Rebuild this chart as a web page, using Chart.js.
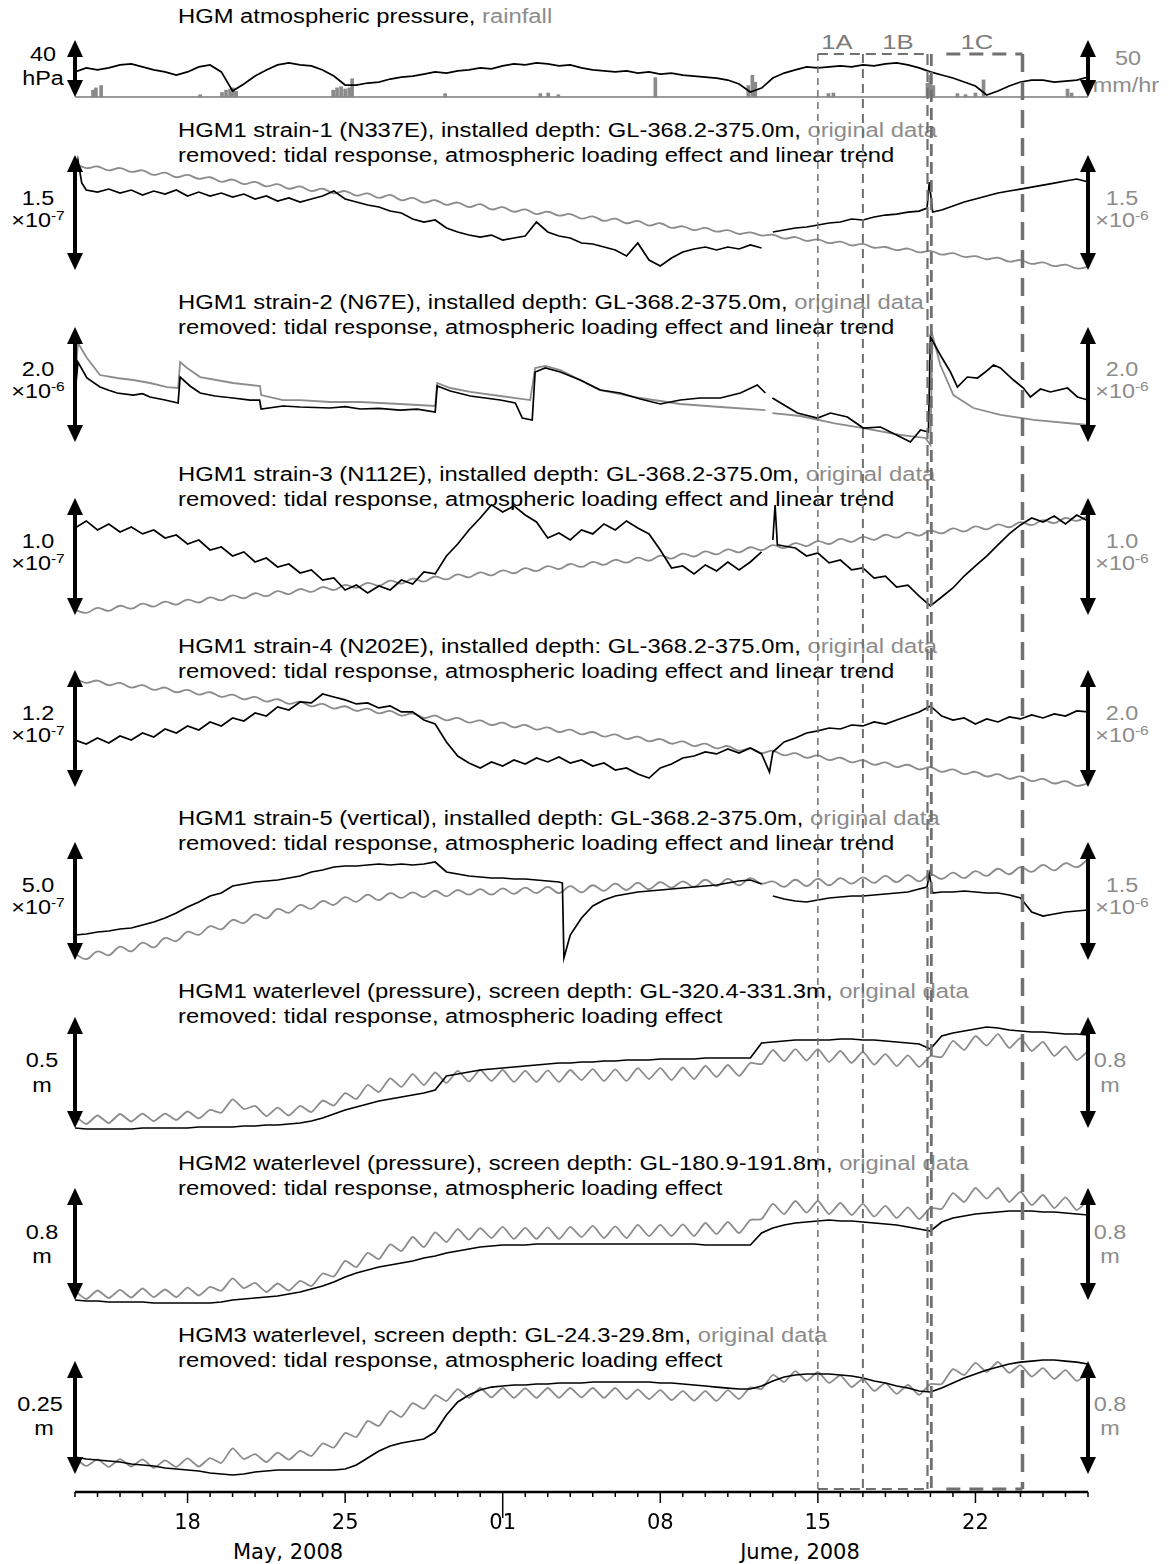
<!DOCTYPE html>
<html><head><meta charset="utf-8">
<title>HGM strain and water level, May–June 2008</title>
<script src="https://cdn.jsdelivr.net/npm/chart.js@4.4.1/dist/chart.umd.min.js"></script>
<style>
html,body{margin:0;padding:0;background:#fff}
#wrap{position:relative;width:1169px;height:1564px;overflow:hidden;background:#fff}
#c{position:absolute;left:0;top:0;z-index:2}
.t{position:absolute;left:178px;font-family:"Liberation Sans",Arial,sans-serif;font-size:19.5px;line-height:20px;white-space:nowrap;transform:scaleX(1.22);transform-origin:0 0;color:#000;z-index:1}
.g{color:#8c8c8c}
.c{position:absolute;font-family:"Liberation Sans",Arial,sans-serif;font-size:19.5px;line-height:20px;white-space:nowrap;transform:translate(-50%,-50%) scaleX(1.2);z-index:1;color:#000}
.c.g{color:#8c8c8c}
.sup{font-size:13px;position:relative;top:-7px}
.ax{position:absolute;font-family:"DejaVu Sans",Verdana,sans-serif;font-size:21px;line-height:24px;white-space:nowrap;transform:translate(-50%,-50%);color:#000;z-index:1}
.ev{position:absolute;font-family:"Liberation Sans",Arial,sans-serif;font-size:21px;line-height:22px;white-space:nowrap;transform:translate(-50%,-50%) scaleX(1.22);color:#7c7c7c;z-index:1}
</style></head>
<body><div id="wrap">
<canvas id="c" width="1169" height="1564"></canvas>

<div class="t" style="top:6px">HGM atmospheric pressure, <span class="g">rainfall</span></div>
<div class="t" style="top:120px">HGM1 strain-1 (N337E), installed depth: GL-368.2-375.0m, <span class="g">original data</span></div>
<div class="t" style="top:145px">removed: tidal response, atmospheric loading effect and linear trend</div>
<div class="t" style="top:292px">HGM1 strain-2 (N67E), installed depth: GL-368.2-375.0m, <span class="g">original data</span></div>
<div class="t" style="top:317px">removed: tidal response, atmospheric loading effect and linear trend</div>
<div class="t" style="top:464px">HGM1 strain-3 (N112E), installed depth: GL-368.2-375.0m, <span class="g">original data</span></div>
<div class="t" style="top:489px">removed: tidal response, atmospheric loading effect and linear trend</div>
<div class="t" style="top:636px">HGM1 strain-4 (N202E), installed depth: GL-368.2-375.0m, <span class="g">original data</span></div>
<div class="t" style="top:661px">removed: tidal response, atmospheric loading effect and linear trend</div>
<div class="t" style="top:808px">HGM1 strain-5 (vertical), installed depth: GL-368.2-375.0m, <span class="g">original data</span></div>
<div class="t" style="top:833px">removed: tidal response, atmospheric loading effect and linear trend</div>
<div class="t" style="top:981px">HGM1 waterlevel (pressure), screen depth: GL-320.4-331.3m, <span class="g">original data</span></div>
<div class="t" style="top:1006px">removed: tidal response, atmospheric loading effect</div>
<div class="t" style="top:1153px">HGM2 waterlevel (pressure), screen depth: GL-180.9-191.8m, <span class="g">original data</span></div>
<div class="t" style="top:1178px">removed: tidal response, atmospheric loading effect</div>
<div class="t" style="top:1325px">HGM3 waterlevel, screen depth: GL-24.3-29.8m, <span class="g">original data</span></div>
<div class="t" style="top:1350px">removed: tidal response, atmospheric loading effect</div>

<div class="c" style="left:43px;top:54px">40</div>
<div class="c" style="left:43px;top:78px">hPa</div>
<div class="c" style="left:38px;top:198px">1.5</div>
<div class="c" style="left:38px;top:221px">×10<span class="sup">-7</span></div>
<div class="c" style="left:38px;top:369px">2.0</div>
<div class="c" style="left:38px;top:392px">×10<span class="sup">-6</span></div>
<div class="c" style="left:38px;top:541px">1.0</div>
<div class="c" style="left:38px;top:564px">×10<span class="sup">-7</span></div>
<div class="c" style="left:38px;top:713px">1.2</div>
<div class="c" style="left:38px;top:736px">×10<span class="sup">-7</span></div>
<div class="c" style="left:38px;top:885px">5.0</div>
<div class="c" style="left:38px;top:908px">×10<span class="sup">-7</span></div>
<div class="c" style="left:42px;top:1060px">0.5</div>
<div class="c" style="left:42px;top:1085px">m</div>
<div class="c" style="left:42px;top:1232px">0.8</div>
<div class="c" style="left:42px;top:1256px">m</div>
<div class="c" style="left:40px;top:1404px">0.25</div>
<div class="c" style="left:44px;top:1428px">m</div>

<div class="c g" style="left:1128px;top:58px">50</div>
<div class="c g" style="left:1126px;top:85px">mm/hr</div>
<div class="c g" style="left:1122px;top:198px">1.5</div>
<div class="c g" style="left:1122px;top:221px">×10<span class="sup">-6</span></div>
<div class="c g" style="left:1122px;top:369px">2.0</div>
<div class="c g" style="left:1122px;top:392px">×10<span class="sup">-6</span></div>
<div class="c g" style="left:1122px;top:541px">1.0</div>
<div class="c g" style="left:1122px;top:564px">×10<span class="sup">-6</span></div>
<div class="c g" style="left:1122px;top:713px">2.0</div>
<div class="c g" style="left:1122px;top:736px">×10<span class="sup">-6</span></div>
<div class="c g" style="left:1122px;top:885px">1.5</div>
<div class="c g" style="left:1122px;top:908px">×10<span class="sup">-6</span></div>
<div class="c g" style="left:1110px;top:1060px">0.8</div>
<div class="c g" style="left:1110px;top:1085px">m</div>
<div class="c g" style="left:1110px;top:1232px">0.8</div>
<div class="c g" style="left:1110px;top:1256px">m</div>
<div class="c g" style="left:1110px;top:1404px">0.8</div>
<div class="c g" style="left:1110px;top:1428px">m</div>

<div class="ev" style="left:837px;top:42px">1A</div>
<div class="ev" style="left:898px;top:42px">1B</div>
<div class="ev" style="left:977px;top:42px">1C</div>

<div class="ax" style="left:288px;top:1552px">May, 2008</div>
<div class="ax" style="left:800px;top:1552px">Jume, 2008</div>
</div>

<script>
// ---------- time axis (days since 13 May 2008 00:00) ----------
const days = [];
for (let k = 0; k <= 90; k++) days.push(k / 2);
const tickDays = [5, 12, 19, 26, 33, 40];
const tickLabels = ['18', '25', '01', '08', '15', '22'];
const monthStartDay = 19;
const eventDays = [33.0, 35.0, 37.87, 38.04, 42.09];

// ---------- scale bars (value of each arrow) ----------
const scaleBarsLeft  = [40, 150, 200, 100, 120, 500, 500, 800, 250];
const scaleBarsRight = [50, 150, 200, 100, 200, 150, 800, 800, 800];

// ---------- panel 0: atmospheric pressure (hPa, relative) & rainfall (mm/hr) ----------
const pressure = [17.6,20.4,19.0,20.4,22.5,23.2,21.1,19.0,17.6,15.4,17.6,21.1,22.5,17.6,4.2,9.1,14.7,19.0,22.5,23.9,22.5,21.8,19.0,14.7,8.4,8.4,9.8,10.5,12.6,14.0,14.7,16.1,17.6,16.8,18.3,19.0,20.4,19.7,21.8,23.2,22.5,23.9,23.2,21.8,22.5,20.4,19.0,18.3,17.6,18.3,16.8,17.6,16.1,16.8,15.4,14.7,14.0,13.3,11.9,9.1,3.5,6.3,13.3,16.8,19.0,21.1,20.4,21.1,21.8,21.1,22.5,21.8,23.2,23.9,22.5,20.4,17.6,15.4,13.3,10.5,7.7,1.4,4.2,7.7,10.5,11.9,11.9,10.5,11.2,11.9,14.0];
const rainDays = [0.8,0.93,1.16,5.56,6.53,6.71,6.89,7.02,7.16,11.47,11.64,11.82,12.0,12.18,12.31,16.44,20.67,21.02,21.47,25.78,29.91,30.09,30.22,33.47,33.69,37.87,38.0,38.13,39.2,39.56,40.0,40.36,44.09,44.27];
const rainRate = [6,8,10,2,4,6,7,8,5,6,8,9,7,8,16,3,3,3.5,2,17,10,19,13,3,3.5,12,19,10,3,2,3.5,15,7,3.5];

// ---------- panel 1: strain-1 (black x1e-9 [day,value], gray x1e-8) ----------
const strain1Black = [[0,120.0],[0.13,143.4],[0.3,113.4],[0.5,104.3],[1,101.7],[1.5,105.6],[2,100.4],[2.5,104.3],[3,97.8],[3.5,103.0],[4,99.1],[4.5,104.3],[5,96.5],[5.5,101.7],[6,96.5],[6.5,100.4],[7,95.2],[7.5,99.1],[8,92.6],[8.5,96.5],[9,90.0],[9.5,93.9],[10,88.7],[10.5,92.6],[11,96.5],[11.5,103.0],[12,92.6],[12.5,88.7],[13,84.8],[13.5,82.2],[14,76.9],[14.5,74.3],[15,66.5],[15.5,62.6],[16,65.2],[16.5,54.8],[17,49.6],[17.5,45.6],[18,43.0],[18.5,45.6],[19,39.1],[19.5,41.7],[20,44.3],[20.5,62.6],[21,49.6],[21.5,44.3],[22,41.7],[22.5,35.2],[23,33.9],[23.5,30.0],[24,26.1],[24.5,18.3],[25,35.2],[25.5,13.0],[26,5.2],[26.5,15.6],[27,23.5],[27.5,27.4],[28,30.0],[28.5,26.1],[29,30.0],[29.5,27.4],[30,32.6],[30.5,28.7],[30.75,null],[31,49.6],[31.5,52.2],[32,54.8],[32.5,56.1],[33,58.7],[33.5,61.3],[34,62.6],[34.5,66.5],[35,65.2],[35.5,69.1],[36,71.7],[36.5,73.0],[37,75.6],[37.5,76.9],[37.85,80.8],[37.95,114.8],[38.1,75.6],[38.5,78.2],[39,83.5],[39.5,88.7],[40,92.6],[40.5,96.5],[41,100.4],[41.5,103.0],[42,105.6],[42.5,108.2],[43,110.8],[43.5,113.4],[44,116.1],[44.5,118.7],[45,114.8]];
const strain1Gray = [139,133,135,130,133,128,130,124,127,121,124,119,121,115,118,112,115,109,112,106,109,103,106,100,103,97,100,94,98,91,94,88,91,85,88,82,86,79,82,76,79,73,76,71,73,67,70,64,67,61,64,58,61,55,57,52,55,50,52,47,49,45,46,41,43,38,40,35,37,32,34,29,30,26,28,23,25,20,22,17,18,14,16,11,13,8,10,5,7,2,4];

// ---------- panel 2: strain-2 (black x1e-8, gray x1e-8) ----------
const strain2Black = [[0,81.7],[0.13,139.1],[0.53,111.3],[1.11,95.6],[1.5,90.0],[1.87,85.2],[2.58,81.7],[3.0,84.0],[3.33,78.3],[4.0,73.0],[4.58,67.8],[4.67,113.0],[5.11,97.4],[5.56,85.2],[6.22,80.0],[7.02,76.5],[7.78,73.0],[8.2,73.0],[8.27,57.4],[9.24,62.6],[10.0,60.9],[11.33,59.1],[12.0,61.5],[12.67,57.4],[13.5,58.5],[14.44,55.6],[15.2,57.0],[16.0,52.2],[16.09,97.4],[16.67,88.7],[17.56,80.0],[18.89,73.0],[19.56,67.8],[19.87,41.7],[20.31,38.3],[20.44,121.7],[20.89,128.7],[21.56,121.7],[22.44,107.8],[23.33,90.4],[24.22,85.2],[25.11,74.8],[26.0,66.1],[26.89,73.0],[27.78,76.5],[28.67,76.5],[29.56,85.2],[30.31,99.1],[30.67,85.2],[30.8,null],[30.98,76.5],[32.09,50.4],[32.98,41.7],[33.56,50.4],[34.31,43.5],[35.02,24.3],[35.78,26.1],[36.67,8.7],[37.11,0],[37.56,20.9],[37.91,17.4],[38.0,182.6],[38.44,151.3],[38.89,121.7],[39.2,95.6],[39.64,113.0],[40.09,111.3],[40.44,121.7],[40.8,133.9],[41.11,128.7],[41.69,107.8],[42.13,93.9],[42.44,78.3],[42.89,92.2],[43.33,87.0],[44.09,93.9],[44.53,78.3],[45.0,73.0]];
const strain2Gray = [[0,104.3],[0.13,172.2],[0.53,146.1],[1.11,116.5],[1.87,111.3],[2.58,107.8],[3.33,102.6],[4.09,95.6],[4.58,93.9],[4.67,139.1],[4.98,128.7],[5.56,113.0],[7.02,102.6],[8.22,97.4],[8.27,81.7],[9.24,73.0],[10.0,73.0],[11.33,69.6],[12.67,69.6],[14.44,66.1],[16.0,62.6],[16.09,102.6],[16.67,93.9],[17.56,87.0],[18.89,80.0],[20.22,73.0],[20.44,128.7],[20.89,132.2],[21.56,125.2],[22.44,107.8],[23.33,90.4],[25.11,76.5],[26.89,66.1],[28.67,60.9],[30.67,55.6],[30.8,null],[30.98,50.4],[32.22,45.2],[33.69,33.0],[35.02,24.3],[36.67,12.2],[37.78,7.0],[38.0,-5.2],[38.09,186.1],[38.44,133.9],[39.02,81.7],[39.91,59.1],[41.11,47.0],[42.58,38.3],[45.0,29.6]];

// ---------- panel 3: strain-3 (black x1e-9, gray x1e-8) ----------
const strain3Black = [[0,74.4],[0.5,80.4],[1,72.7],[1.5,77.8],[2,71.0],[2.5,75.2],[3,69.3],[3.5,72.7],[4,65.8],[4.5,68.4],[5,60.7],[5.5,64.1],[6,55.6],[6.5,58.1],[7,50.4],[7.5,53.9],[8,45.3],[8.5,48.7],[9,41.0],[9.5,43.6],[10,35.9],[10.5,38.5],[11,29.9],[11.5,31.6],[12,21.4],[12.5,25.6],[13,18.8],[13.5,24.8],[14,21.4],[14.5,29.9],[15,26.5],[15.5,36.8],[16,35.1],[16.5,50.4],[17,60.7],[17.5,72.7],[18,82.9],[18.5,94.1],[19,88.1],[19.5,93.2],[20,85.5],[20.5,79.5],[21,65.8],[21.5,70.1],[22,64.1],[22.5,72.7],[23,69.3],[23.5,77.8],[24,72.7],[24.5,80.4],[25,74.4],[25.5,69.3],[26,55.6],[26.5,40.2],[27,41.9],[27.5,35.1],[28,42.8],[28.5,37.6],[29,45.3],[29.5,38.5],[30,45.3],[30.5,53.9],[30.75,null],[31,64.1],[31.1,94],[31.2,60],[31.5,59.0],[32,57.3],[32.5,50.4],[33,53.0],[33.5,44.5],[34,47.0],[34.5,38.5],[35,40.2],[35.5,31.6],[36,33.3],[36.5,23.9],[37,25.6],[37.5,16.2],[38,7.7],[38.5,15.4],[39,23.1],[39.5,33.3],[40,41.9],[40.5,50.4],[41,59.9],[41.5,69.3],[42,77.0],[42.5,82.9],[43,79.5],[43.5,84.6],[44,77.8],[44.5,85.5],[45,80.4]];
const strain3Gray = [4.3,1.8,6.1,3.6,7.9,5.4,9.7,7.2,11.4,8.9,13.2,10.7,15.0,12.5,16.8,14.3,18.6,16.1,20.4,17.9,22.2,19.7,23.9,21.4,25.7,23.2,27.5,25.0,29.3,26.8,31.1,28.6,32.9,30.4,34.7,32.2,36.4,33.9,38.2,35.7,40.0,37.5,41.8,39.3,43.6,41.1,45.4,42.9,47.2,44.7,49.0,46.4,50.7,48.2,52.5,50.0,54.3,51.8,56.1,53.6,57.9,55.4,59.7,57.2,61.5,58.9,63.2,60.7,65.0,62.5,66.8,64.3,68.6,66.1,70.4,67.9,72.2,69.7,74.0,71.4,75.7,73.2,77.5,75.0,79.3,76.8,81.1,78.6,82.9,80.4,84.7];

// ---------- panel 4: strain-4 (black x1e-9, gray x1e-8) ----------
const strain4Black = [[0,48.2],[0.5,44.1],[1,50.3],[1.5,45.1],[2,52.3],[2.5,48.2],[3,55.4],[3.5,51.3],[4,59.5],[4.5,55.4],[5,62.6],[5.5,58.5],[6,66.7],[6.5,62.6],[7,70.8],[7.5,67.7],[8,75.9],[8.5,72.8],[9,82.1],[9.5,79.0],[10,87.2],[10.5,86.2],[11,95.4],[11.5,92.3],[12,89.3],[12.5,85.2],[13,86.2],[13.5,81.1],[14,83.1],[14.5,77.0],[15,77.0],[15.5,68.7],[16,64.6],[16.5,46.2],[17,31.8],[17.5,24.6],[18,19.5],[18.5,25.7],[19,21.5],[19.5,27.7],[20,23.6],[20.5,29.8],[21,25.7],[21.5,30.8],[22,24.6],[22.5,27.7],[23,21.5],[23.5,24.6],[24,17.4],[24.5,19.5],[25,13.3],[25.5,9.2],[26,19.5],[26.5,23.6],[27,29.8],[27.5,31.8],[28,35.9],[28.5,33.9],[29,39.0],[29.5,34.9],[30,40.0],[30.5,33.9],[30.85,15.4],[31,35.9],[31.5,46.2],[32,50.3],[32.5,55.4],[33,57.5],[33.5,60.5],[34,59.5],[34.5,63.6],[35,62.6],[35.5,66.7],[36,64.6],[36.5,68.7],[37,72.8],[37.5,77.0],[38,83.1],[38.5,72.8],[39,68.7],[39.5,70.8],[40,64.6],[40.5,69.8],[41,66.7],[41.5,71.8],[42,69.8],[42.5,73.9],[43,70.8],[43.5,74.9],[44,72.8],[44.5,78.0],[45,77.0]];
const strain4Gray = [186,178,182,174,178,170,174,166,170,162,166,158,162,154,158,150,154,146,150,142,146,138,142,134,138,130,134,126,130,122,126,118,122,114,118,110,114,106,110,102,106,98,102,94,98,90,94,86,90,82,86,78,82,74,78,70,74,66,70,62,66,58,62,54,58,50,54,46,50,42,46,38,42,34,38,30,34,26,30,22,26,18,22,14,18,10,14,6,10,2,6];

// ---------- panel 5: strain-5 (black x1e-9, gray x1e-8) ----------
const strain5Black = [[0,105.9],[0.5,110.2],[1,118.6],[1.5,122.9],[2,131.3],[2.5,135.6],[3,148.3],[3.5,161.0],[4,178.0],[4.5,199.1],[5,224.6],[5.5,245.7],[6,271.2],[6.5,283.9],[7,313.5],[7.5,322.0],[8,330.5],[8.5,334.7],[9,339.0],[9.5,347.4],[10,355.9],[10.5,372.9],[11,381.3],[11.5,394.0],[12,398.3],[12.5,398.3],[13,402.5],[13.5,406.8],[14,402.5],[14.5,406.8],[15,402.5],[15.5,406.8],[16,415.2],[16.5,372.9],[17,364.4],[17.5,355.9],[18,351.7],[18.5,347.4],[19,347.4],[19.5,343.2],[20,343.2],[20.5,339.0],[21,334.7],[21.5,330.5],[21.65,326.2],[21.72,8.5],[22,105.9],[22.5,178.0],[23,228.8],[23.5,254.2],[24,271.2],[24.5,279.6],[25,288.1],[25.5,292.4],[26,296.6],[26.5,300.8],[27,305.1],[27.5,309.3],[28,313.5],[28.5,317.8],[29,326.2],[29.5,334.7],[30,339.0],[30.5,322.0],[30.75,null],[31,271.2],[31.5,258.5],[32,250.0],[32.5,245.7],[33,254.2],[33.5,262.7],[34,266.9],[34.5,271.2],[35,271.2],[35.5,275.4],[36,279.6],[36.5,283.9],[37,288.1],[37.5,300.8],[37.85,309.3],[37.95,364.4],[38.1,283.9],[38.5,288.1],[39,288.1],[39.5,292.4],[40,288.1],[40.5,283.9],[41,283.9],[41.5,275.4],[42,262.7],[42.5,203.4],[43,186.4],[43.5,194.9],[44,203.4],[44.5,207.6],[45,211.9]];
const strain5Gray = [8,1,11,6,17,11,22,16,28,24,36,32,43,39,51,47,58,53,65,60,70,65,75,70,80,74,83,76,85,79,86,80,88,81,89,83,90,83,91,84,92,85,93,85,94,86,95,88,97,89,98,90,99,92,100,93,102,94,103,95,104,97,100,93,102,94,103,95,104,97,105,98,107,99,108,100,109,103,111,104,113,107,116,109,118,112,121,114,123,118,128];

// ---------- panel 6: HGM1 water level (mm) ----------
const hgm1Black = [0,-4.5,-4.5,-4.5,-4.5,-4.5,0,0,0,0,0,4.5,4.5,4.5,4.5,9.0,9.0,13.5,13.5,18.0,22.5,31.5,45.1,63.1,81.1,94.6,108.1,121.6,130.6,139.7,148.7,157.7,171.2,234.3,243.3,252.3,261.3,265.8,270.3,274.8,279.3,283.8,288.3,292.8,292.8,297.3,297.3,301.8,301.8,306.3,306.3,306.3,310.8,310.8,310.8,310.8,315.4,315.4,315.4,315.4,315.4,382.9,387.4,391.9,396.4,396.4,396.4,396.4,400.9,400.9,396.4,396.4,391.9,387.4,382.9,378.4,355.9,414.5,428.0,437.0,446.0,455.0,450.5,441.5,437.0,432.5,432.5,428.0,423.5,423.5,419.0];
const hgm1Gray = [87,29,90,36,101,47,104,50,104,58,119,69,130,110,207,137,159,86,147,90,159,115,198,162,252,209,310,260,357,296,389,310,400,325,411,335,418,339,418,332,411,332,415,332,418,346,425,339,422,339,432,353,432,346,436,353,447,368,454,375,468,461,562,483,569,486,569,476,555,469,548,457,533,447,523,440,519,512,627,562,663,594,677,577,648,555,620,519,588,490,555];

// ---------- panel 7: HGM2 water level (mm) ----------
const hgm2Black = [0,-7.1,-7.1,-14.3,-14.3,-14.3,-14.3,-21.4,-21.4,-21.4,-21.4,-21.4,-21.4,-14.3,0,7.1,14.3,21.4,28.6,42.9,57.1,78.6,100,128.6,164.3,192.9,214.3,235.7,250,264.3,278.6,300,314.3,335.7,350,364.3,378.6,385.7,392.9,392.9,392.9,400,400,400,400,400,400,400,400,400,400,400,400,400,400,400,392.9,392.9,392.9,392.9,392.9,478.6,514.3,535.7,550,557.1,564.3,571.4,564.3,564.3,557.1,550,542.9,535.7,521.4,507.1,492.9,557.1,585.7,600,614.3,621.4,628.6,635.7,635.7,635.7,628.6,628.6,621.4,614.3,607.1];
const hgm2Gray = [65,7,68,14,72,18,82,21,75,21,89,32,93,66,154,85,122,57,118,68,136,100,189,168,279,235,336,293,397,350,450,378,483,414,507,431,514,443,522,436,515,436,519,436,522,450,529,443,526,443,536,457,536,457,540,457,550,471,557,478,572,578,686,614,707,624,707,614,693,607,686,596,672,586,661,578,658,650,764,700,800,724,800,700,772,678,750,657,733,643,715];

// ---------- panel 8: HGM3 water level (mm) ----------
const hgm3Black = [37.6,33.2,31.0,28.8,26.5,22.1,19.9,17.7,13.3,11.1,8.8,6.6,2.2,0,-2.2,0,4.4,6.6,8.8,8.8,8.8,8.8,8.8,8.8,11.1,19.9,35.4,50.9,61.9,68.6,73.0,77.4,92.9,130.5,159.3,174.7,185.8,192.4,194.7,196.9,196.9,199.1,199.1,201.3,201.3,201.3,203.5,203.5,203.5,203.5,203.5,203.5,201.3,201.3,199.1,196.9,194.7,192.4,190.2,188.0,188.0,194.7,205.7,214.6,219.0,221.2,221.2,221.2,219.0,216.8,212.4,205.7,201.3,194.7,190.2,183.6,181.4,190.2,201.3,212.4,221.2,230.0,236.7,243.3,247.7,249.9,252.2,252.2,249.9,247.7,243.3];
const hgm3Gray = [113,57,103,50,106,53,103,43,96,50,110,53,113,79,181,106,141,85,152,102,163,128,216,187,290,262,375,340,446,404,502,461,559,517,601,539,609,542,609,539,606,539,609,539,609,542,609,539,609,531,598,531,594,524,587,520,587,517,594,531,613,602,701,652,729,659,722,645,698,616,672,588,644,567,630,560,637,637,743,701,786,723,793,716,771,690,750,673,736,659,719];

// ---------- layout (pixels) and styles ----------
const AREA_TOP = 30, AREA_BOTTOM = 1492;
const panelBands = [[40,97],[155,270],[327,442],[498,615],[670,787],[842,960],[1017,1128],[1188,1300],[1361,1474]];
const grayTension = [0, 0.4, 0, 0.4, 0.4, 0.4, 0.2, 0.2, 0.2];
const BLACK = '#000000', GRAY = '#8c8c8c', DASH = '#707070';

const onGrid = vals => vals.map((v, k) => ({x: days[k], y: v}));
const fromPairs = arr => arr.map(([x, y]) => ({x, y}));

const blackSeries = [pressure, strain1Black, strain2Black, strain3Black, strain4Black, strain5Black, hgm1Black, hgm2Black, hgm3Black];
const graySeries  = [null, strain1Gray, strain2Gray, strain3Gray, strain4Gray, strain5Gray, hgm1Gray, hgm2Gray, hgm3Gray];

const scales = {
  x: {
    type: 'linear', position: 'bottom', min: 0, max: 45, offset: false,
    grid: {display: false, drawTicks: false, tickLength: 0, offset: false},
    border: {display: false},
    ticks: {
      padding: 19, maxRotation: 0, autoSkip: false, color: '#000',
      font: {family: "'DejaVu Sans', Verdana, sans-serif", size: 21},
      callback: v => { const i = tickDays.indexOf(v); return i >= 0 ? tickLabels[i] : ''; }
    },
    afterBuildTicks: s => { s.ticks = tickDays.map(v => ({value: v})); },
    afterFit: s => { s.height = 1564 - AREA_BOTTOM; s.paddingLeft = 0; s.paddingRight = 0; }
  }
};
panelBands.forEach(([top, bot], i) => {
  const h = bot - top;
  const mk = S => ({type: 'linear', display: false, min: -S * (AREA_BOTTOM - bot) / h, max: S + S * (top - AREA_TOP) / h});
  scales['yL' + i] = mk(scaleBarsLeft[i]);
  scales['yR' + i] = mk(scaleBarsRight[i]);
});

const datasets = [];
blackSeries.forEach((s, i) => {
  const pts = Array.isArray(s[0]) ? fromPairs(s) : onGrid(s);
  datasets.push({type: 'line', data: pts, yAxisID: 'yL' + i, borderColor: BLACK, borderWidth: 1.7, pointRadius: 0, tension: 0, fill: false, spanGaps: false, order: 0});
});
graySeries.forEach((s, i) => {
  if (!s) return;
  const pts = Array.isArray(s[0]) ? fromPairs(s) : onGrid(s);
  datasets.push({type: 'line', data: pts, yAxisID: 'yR' + i, borderColor: GRAY, borderWidth: 1.8, pointRadius: 0, tension: grayTension[i], fill: false, spanGaps: false, order: 1});
});
datasets.push({type: 'bar', data: rainDays.map((d, i) => ({x: d, y: rainRate[i]})), xAxisID: 'x', yAxisID: 'yR0', backgroundColor: '#8a8a8a', borderWidth: 0, barThickness: 3, grouped: false, order: 2});

function drawArrow(ctx, x, yTop, yBot) {
  const hl = 17, hw = 8, sw = 2;
  ctx.fillStyle = '#000';
  ctx.fillRect(x - sw, yTop + hl - 1, sw * 2, (yBot - yTop) - 2 * hl + 2);
  ctx.beginPath(); ctx.moveTo(x, yTop); ctx.lineTo(x - hw, yTop + hl); ctx.lineTo(x + hw, yTop + hl); ctx.closePath(); ctx.fill();
  ctx.beginPath(); ctx.moveTo(x, yBot); ctx.lineTo(x - hw, yBot - hl); ctx.lineTo(x + hw, yBot - hl); ctx.closePath(); ctx.fill();
}
function seg(ctx, x1, y1, x2, y2) { ctx.beginPath(); ctx.moveTo(x1, y1); ctx.lineTo(x2, y2); ctx.stroke(); }

const overlay = {
  id: 'overlay',
  beforeDatasetsDraw(chart) {
    const ctx = chart.ctx, ca = chart.chartArea;
    const y0 = chart.scales.yR0.getPixelForValue(0);
    ctx.save(); ctx.strokeStyle = '#9a9a9a'; ctx.lineWidth = 2; seg(ctx, ca.left, y0, ca.right, y0); ctx.restore();
  },
  afterDatasetsDraw(chart) {
    const ctx = chart.ctx, ca = chart.chartArea, xs = chart.scales.x;
    ctx.save();
    const ex = eventDays.map(d => xs.getPixelForValue(d));
    const styles = [{w: 1.5, d: [7, 5]}, {w: 2, d: [9, 6]}, {w: 2.2, d: [11, 6]}, {w: 2.8, d: [12, 6]}, {w: 3.5, d: [18, 10]}];
    const boxTop = 54, boxBot = ca.bottom - 3;
    ctx.strokeStyle = DASH;
    ex.forEach((x, i) => { ctx.lineWidth = styles[i].w; ctx.setLineDash(styles[i].d); seg(ctx, x, boxTop, x, boxBot); });
    ctx.lineWidth = 2; ctx.setLineDash([10, 6]);
    seg(ctx, ex[0], boxTop, ex[2], boxTop); seg(ctx, ex[0], boxBot, ex[2], boxBot);
    ctx.lineWidth = 3; ctx.setLineDash([14, 9]);
    seg(ctx, ex[3] + 15, boxTop, ex[4], boxTop); seg(ctx, ex[3] + 15, boxBot, ex[4], boxBot);
    ctx.setLineDash([]);
    panelBands.forEach((b, i) => {
      const L = chart.scales['yL' + i], R = chart.scales['yR' + i];
      drawArrow(ctx, ca.left, L.getPixelForValue(scaleBarsLeft[i]), L.getPixelForValue(0));
      drawArrow(ctx, ca.right, R.getPixelForValue(scaleBarsRight[i]), R.getPixelForValue(0));
    });
    ctx.strokeStyle = '#000'; ctx.lineWidth = 2.5;
    seg(ctx, ca.left, ca.bottom, ca.right, ca.bottom);
    ctx.lineWidth = 1.5;
    for (let d = 0; d <= 45; d++) {
      const x = xs.getPixelForValue(d);
      const len = d === monthStartDay ? 26 : (tickDays.includes(d) ? 11 : 5);
      seg(ctx, x, ca.bottom, x, ca.bottom + len);
    }
    ctx.restore();
  }
};

new Chart(document.getElementById('c'), {
  type: 'line',
  data: {datasets},
  options: {
    responsive: false, maintainAspectRatio: false, animation: false, events: [],
    layout: {padding: {left: 75, right: 81, top: AREA_TOP, bottom: 0}},
    scales,
    plugins: {legend: {display: false}, tooltip: {enabled: false}}
  },
  plugins: [overlay]
});
</script>
</body></html>
